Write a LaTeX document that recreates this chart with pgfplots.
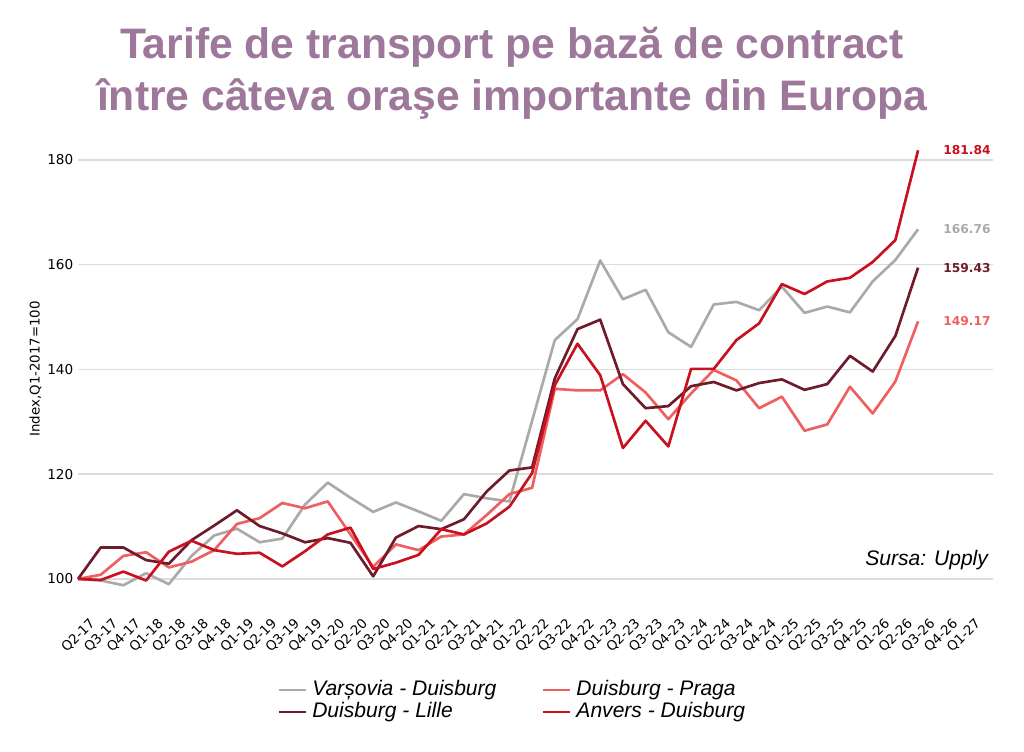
\documentclass[border=0pt]{standalone}
\usepackage{fontspec}
\setmainfont{DejaVu Sans}
\newfontfamily\arial{Liberation Sans}
\usepackage{pgfplots}
\pgfplotsset{compat=1.18}
\usepackage{pgfplotstable}
\definecolor{cgray}{RGB}{170,170,170}
\definecolor{cmaroon}{RGB}{110,28,44}
\definecolor{clight}{RGB}{240,95,95}
\definecolor{cred}{RGB}{200,16,30}
\definecolor{ctitle}{RGB}{158,120,155}
\definecolor{cgrid}{RGB}{220,220,220}

\pgfplotstableread{
x g m p r
0 100 100 100 100
1 99.7 106.0 100.8 99.8
2 98.8 106.0 104.4 101.4
3 101.1 103.6 105.1 99.7
4 99.0 102.9 102.2 105.2
5 104.4 107.4 103.3 107.3
6 108.3 110.2 105.5 105.5
7 109.6 113.1 110.5 104.8
8 107.0 110.1 111.6 105.0
9 107.7 108.7 114.5 102.4
10 114.2 107.0 113.5 105.3
11 118.4 107.8 114.8 108.5
12 115.5 106.9 108.5 109.8
13 112.8 100.5 102.3 101.9
14 114.6 107.9 106.6 103.1
15 112.9 110.1 105.5 104.6
16 111.1 109.5 108.1 109.5
17 116.2 111.4 108.5 108.5
18 115.4 116.7 112.2 110.6
19 114.8 120.7 116.2 113.8
20 130.2 121.3 117.4 120.2
21 145.6 138.3 136.3 137.0
22 149.6 147.7 136.0 144.9
23 160.8 149.5 136.0 138.9
24 153.4 137.2 139.1 125.0
25 155.2 132.6 135.6 130.2
26 147.1 133.0 130.5 125.3
27 144.3 136.8 135.4 140.1
28 152.4 137.6 139.9 140.1
29 152.9 136.0 137.9 145.6
30 151.3 137.4 132.6 148.8
31 155.8 138.1 134.8 156.3
32 150.8 136.1 128.3 154.4
33 152.0 137.2 129.5 156.8
34 150.9 142.6 136.7 157.5
35 156.8 139.6 131.6 160.5
36 160.9 146.4 137.7 164.7
37 166.76 159.43 149.17 181.84
}\datatable

\begin{document}
\begin{tikzpicture}
\path[use as bounding box] (-58.5pt,-118pt) rectangle (709.5pt,446pt);
\node[anchor=base, text=ctitle, font=\arial\bfseries\fontsize{32}{34}\selectfont] at (325.5pt,402pt) {Tarife de transport pe bază de contract};
\node[anchor=base, text=ctitle, font=\arial\bfseries\fontsize{32}{34}\selectfont] at (325.5pt,363pt) {între câteva oraşe importante din Europa};
\begin{axis}[
  at={(0,0)}, anchor=south west,
  scale only axis, width=686.25pt, height=345.7pt,
  xmin=0, xmax=40.3, ymin=97, ymax=185,
  clip=false,
  axis line style={draw=none},
  tick style={draw=none},
  ymajorgrids, grid style={color=cgrid, line width=1.1pt},
  ytick={100,120,140,160,180},
  yticklabel style={font=\fontsize{10.2}{12}\selectfont},
  /pgf/number format/assume math mode=true,
  xtick={0,...,39},
  xticklabels={Q2-17,Q3-17,Q4-17,Q1-18,Q2-18,Q3-18,Q4-18,Q1-19,Q2-19,Q3-19,Q4-19,Q1-20,Q2-20,Q3-20,Q4-20,Q1-21,Q2-21,Q3-21,Q4-21,Q1-22,Q2-22,Q3-22,Q4-22,Q1-23,Q2-23,Q3-23,Q4-23,Q1-24,Q2-24,Q3-24,Q4-24,Q1-25,Q2-25,Q3-25,Q4-25,Q1-26,Q2-26,Q3-26,Q4-26,Q1-27},
  x tick label style={xshift=8pt, yshift=-16.5pt, rotate=45, anchor=north east, inner sep=0pt, font=\fontsize{10}{10}\selectfont},
  ylabel={Index,Q1-2017=100},
  ylabel style={at={(axis description cs:-0.0466,0.49)}, anchor=center, font=\fontsize{10}{12}\selectfont},
  legend columns=2,
  legend cell align=left,
  legend style={at={(0.4765,-0.231)}, anchor=center, draw=none, fill=none,
    font=\arial\itshape\fontsize{15.8}{16}\selectfont,
    nodes={inner ysep=0pt, inner xsep=4pt, text height=12pt, text depth=4.5pt},
    /tikz/every even column/.append style={column sep=30pt}},
  legend image code/.code={\draw[#1] (0pt,0pt) -- (20pt,0pt);},
  every axis plot/.append style={line width=2pt, line join=round},
]
\addplot[cgray] table[x=x, y=g] {\datatable};
\addlegendentry{Varșovia - Duisburg}
\addplot[clight] table[x=x, y=p] {\datatable};
\addlegendentry{Duisburg - Praga}
\addplot[cmaroon] table[x=x, y=m] {\datatable};
\addlegendentry{Duisburg - Lille}
\addplot[cred] table[x=x, y=r] {\datatable};
\addlegendentry{Anvers - Duisburg}
\node[anchor=west, inner sep=0pt, text=cred, font=\bfseries\fontsize{9.2}{10}\selectfont] at (axis cs:38.1,181.84) {181.84};
\node[anchor=west, inner sep=0pt, text=cgray, font=\bfseries\fontsize{9.2}{10}\selectfont] at (axis cs:38.1,166.76) {166.76};
\node[anchor=west, inner sep=0pt, text=cmaroon, font=\bfseries\fontsize{9.2}{10}\selectfont] at (axis cs:38.1,159.43) {159.43};
\node[anchor=west, inner sep=0pt, text=clight, font=\bfseries\fontsize{9.2}{10}\selectfont] at (axis cs:38.1,149.17) {149.17};
\node[anchor=base east, inner sep=0pt, font=\arial\itshape\fontsize{15.8}{16}\selectfont] at (axis cs:40.09,102.5) {Sursa: Upply};
\end{axis}
\end{tikzpicture}
\end{document}
